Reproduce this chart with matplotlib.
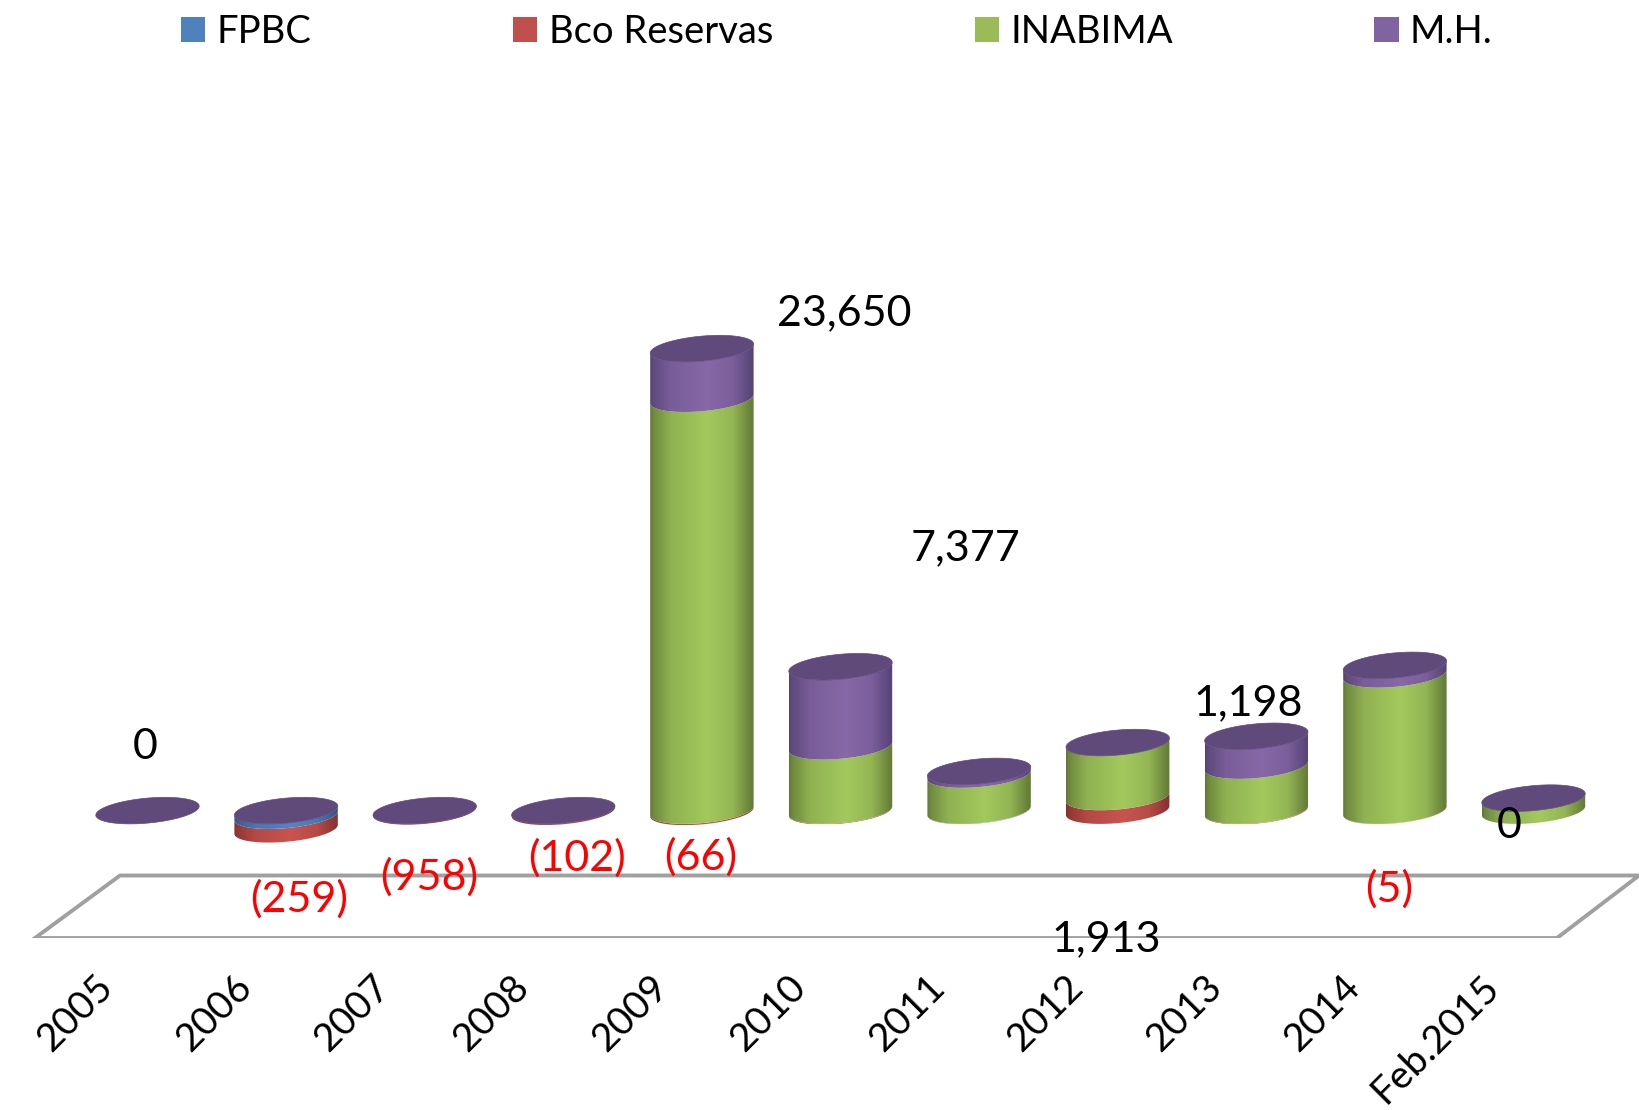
import numpy as np
import matplotlib
matplotlib.use("Agg")
import matplotlib.pyplot as plt
from matplotlib.patches import Patch, Polygon
from matplotlib.transforms import ScaledTranslation

plt.rcParams['font.family'] = ['Lato', 'DejaVu Sans']

#the values
years = ["2005", "2006", "2007", "2008", "2009", "2010", "2011", "2012", "2013", "2014", "Feb.2015"]
fpbc = [0, -259, 0, 0, 0, 0, -15, 0, 0, 0, 0]
bco_reservas = [0, -699, -40, -60, -66, -30, 0, 700, -25, -10, 0]
inabima = [0, 0, 0, 0, 21130, 3300, 1850, 2790, 2310, 6990, 640]
mh = [0, 0, 0, 0, 2570, 4080, 160, 0, 1500, 460, 0]
series_names = ["FPBC", "Bco Reservas", "INABIMA", "M.H."]

#the data labels, they are not next to their bars in the original
label_texts = ["0", "(259)", "(958)", "(102)", "(66)", "23,650", "7,377", "1,198", "1,913", "(5)", "0"]

#where those labels sit, in pixels of the 1640x1110 picture
label_pos = [(145, 747), (299, 899), (429, 877), (577, 858), (701, 857), (844, 313),
             (966, 548), (1248, 703), (1106, 939), (1389, 889), (1509, 826)]
label_red = [False, True, True, True, True, False, False, False, False, True, False]

#colours: bright middle and dark edge of the cylinder sides
bright = ["#4F86C6", "#C8544F", "#A3C95D", "#8768A8"]
dark = ["#2F5585", "#85312F", "#627A36", "#564375"]
legend_colors = ["#4F81BD", "#C0504D", "#9BBB59", "#8064A2"]
cap_color = "#604A7B"

W, H = 1640, 1110
FLOOR_Y = 938
ZERO_Y = 810.6
UNITS_PER_PX = 51.3
STEP_PX = 138.6
FIRST_X = 147.5

fig = plt.figure(figsize=(W / 100, H / 100), dpi=100)
ax = fig.add_axes([0, 1 - FLOOR_Y / H, 1, FLOOR_Y / H])
ax.patch.set_visible(False)
xlim = (-FIRST_X / STEP_PX, (W - FIRST_X) / STEP_PX)
ylim = (-(FLOOR_Y - ZERO_Y) * UNITS_PER_PX, ZERO_Y * UNITS_PER_PX)

#cylinder shape in data units
rx = 51.7 / STEP_PX
ry = 12.5 * UNITS_PER_PX
tilt = 4.5 * UNITS_PER_PX


def px(x, y):
    #pixel position to figure fraction
    return x / W, 1 - y / H


#the floor of the 3d chart
floor = Polygon([px(35, 938), px(120, 875.5), px(1639, 875.5), px(1557, 938)], closed=True,
                facecolor="white", edgecolor="#A0A0A0", linewidth=2.8,
                transform=fig.transFigure, zorder=1)
ax.add_patch(floor)


def ellipse_points(cx, cy, t):
    return cx + rx * np.cos(t), cy + ry * np.sin(t) + tilt * np.cos(t)


def draw_side(cx, y0, y1, col):
    #side of a cylinder between y0 and y1, gradient image clipped to the outline
    t = np.linspace(np.pi, 2 * np.pi, 80)
    xb, yb = ellipse_points(cx, y0, t)
    xt, yt = ellipse_points(cx, y1, t)
    pts = np.column_stack([np.r_[xb, xt[::-1]], np.r_[yb, yt[::-1]]])
    clip = Polygon(pts, closed=True, transform=ax.transData)

    c_bright = np.array(matplotlib.colors.to_rgb(bright[col]))
    c_dark = np.array(matplotlib.colors.to_rgb(dark[col]))
    u = np.linspace(0, 1, 120)
    mix = np.interp(u, [0, 0.03, 0.2, 0.55, 0.8, 0.97, 1], [1, 0.8, 0.3, 0, 0.25, 0.9, 1])
    grad = np.array([c_bright * (1 - m) + c_dark * m for m in mix])[np.newaxis, :, :]
    im = ax.imshow(grad, extent=(cx - rx, cx + rx, pts[:, 1].min(), pts[:, 1].max()),
                   aspect="auto", zorder=3, interpolation="bilinear")
    im.set_clip_path(clip)


all_series = [fpbc, bco_reservas, inabima, mh]

for i in range(len(years)):
    #negatives stack down from zero, the deepest one is drawn first
    low = 0
    neg_parts = []
    for s in range(4):
        v = all_series[s][i]
        if v < 0:
            neg_parts.append((low + v, low, s))
            low = low + v
    for y0, y1, s in neg_parts[::-1]:
        draw_side(i, y0, y1, s)

    #positives stack up from zero
    high = 0
    for s in range(4):
        v = all_series[s][i]
        if v > 0:
            draw_side(i, high, high + v, s)
            high = high + v

    #top is always the dark purple
    t = np.linspace(0, 2 * np.pi, 120)
    ex, ey = ellipse_points(i, high, t)
    ax.fill(ex, ey, color=cap_color, zorder=4, linewidth=0.5)

ax.set_xlim(xlim)
ax.set_ylim(ylim)

#axis: only the rotated year labels stay
ax.set_yticks([])
ax.set_xticks(range(len(years)))
ax.set_xticklabels(years, rotation=45, ha="right", rotation_mode="anchor", fontsize=28)
ax.tick_params(axis="x", length=0, pad=22)
shift = ScaledTranslation(-0.53, 0, fig.dpi_scale_trans)
for lab in ax.get_xticklabels():
    lab.set_transform(lab.get_transform() + shift)
for sp in ax.spines.values():
    sp.set_visible(False)

#data labels
for txt, pos, red in zip(label_texts, label_pos, label_red):
    fx, fy = px(pos[0], pos[1])
    ax.text(fx, fy, txt, transform=fig.transFigure, fontsize=31, ha="center", va="center",
            color="#FF0000" if red else "black", zorder=6)

#legend across the top
handles = [Patch(facecolor=c, edgecolor="none") for c in legend_colors]
lx, ly = px(181, 14)
ax.legend(handles, series_names, ncol=4, loc="upper left", bbox_to_anchor=(lx, ly),
          bbox_transform=fig.transFigure, frameon=False, fontsize=27.5, borderpad=0,
          borderaxespad=0, columnspacing=5.28, handlelength=0.63, handleheight=0.63,
          handletextpad=0.3)

fig.savefig("out.png", dpi=100)
